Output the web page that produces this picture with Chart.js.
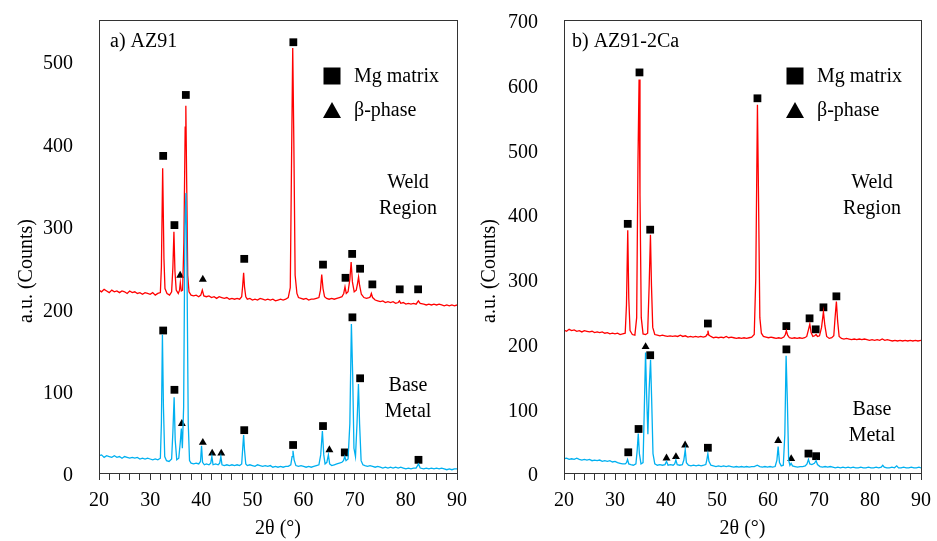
<!DOCTYPE html>
<html>
<head>
<meta charset="utf-8">
<script src="https://cdn.jsdelivr.net/npm/chart.js@4.4.1/dist/chart.umd.min.js"></script>
<style>
  html, body { margin: 0; padding: 0; background: #fff; }
  #wrap { position: relative; width: 937px; height: 541px; }
  canvas { position: absolute; top: 0; }
  #left { left: 0; }
  #right { left: 470px; }
</style>
</head>
<body>
<div id="wrap">
  <canvas id="left" width="470" height="541"></canvas>
  <canvas id="right" width="467" height="541"></canvas>
</div>
<script>
// 2θ (deg), counts

// a) AZ91, weld region
const az91Weld = [
  [20,222],[20.5,220],[21,223],[21.5,221],[22,219],[22.5,222],[23,220],[23.5,221],[24,219],[24.5,221],
  [25,220],[25.5,218],[26,221],[26.5,219],[27,220],[27.5,218],[28,219],[28.5,217],[29,219],[29.5,218],
  [30,217],[30.5,219],[31,216],[31.5,218],[32,219],[32.2,250],[32.45,370],[32.7,260],[32.9,224],[33.3,218],
  [33.8,216],[34.2,220],[34.45,250],[34.65,293],[34.85,245],[35.1,222],[35.5,218],[35.75,222],[35.9,231],[36.1,221],
  [36.35,222],[36.6,280],[36.85,420],[36.98,446],[37.15,350],[37.35,240],[37.6,220],[38,216],[38.5,215],[39,216],
  [39.5,214],[39.9,216],[40.2,222],[40.5,215],[41,214],[41.5,215],[42,213],[42.5,214],[43,212],[43.5,214],
  [44,213],[44.5,212],[45,213],[45.5,211],[46,212],[46.5,211],[47,212],[47.5,211],[47.9,214],[48.1,228],
  [48.28,243],[48.45,226],[48.7,214],[49,211],[49.5,212],[50,210],[50.5,211],[51,210],[51.5,212],[52,211],
  [52.5,210],[53,211],[53.5,210],[54,211],[54.5,209],[55,210],[55.5,211],[56,210],[56.5,211],[57,213],
  [57.4,225],[57.65,380],[57.88,516],[58.1,400],[58.35,240],[58.7,218],[59,213],[59.5,212],[60,211],[60.5,212],
  [61,210],[61.5,211],[62,211],[62.5,212],[63,213],[63.3,222],[63.55,241],[63.8,224],[64.1,214],[64.5,212],
  [65,211],[65.5,212],[66,211],[66.5,212],[67,213],[67.5,214],[67.85,218],[68.1,226],[68.35,218],[68.7,220],
  [69.05,235],[69.3,256],[69.55,232],[69.9,220],[70.3,222],[70.55,230],[70.75,238],[70.95,228],[71.3,217],[71.8,213],
  [72.3,212],[72.8,213],[73.05,214],[73.25,218],[73.5,213],[74,210],[74.5,209],[75,208],[75.5,209],[76,207],
  [76.5,208],[77,207],[77.5,208],[78,206],[78.5,207],[78.75,209],[79,206],[79.5,207],[80,205],[80.5,206],
  [81,205],[81.5,206],[82,205],[82.45,209],[82.8,206],[83.5,205],[84,204],[84.5,205],[85,204],[85.5,205],
  [86,204],[86.5,205],[87,204],[87.5,203],[88,204],[88.5,203],[89,204],[89.5,203],[90,204]
];

// a) AZ91, base metal
const az91Base = [
  [20,21],[20.5,22],[21,19],[21.5,21],[22,20],[22.5,19],[23,21],[23.5,19],[24,20],[24.5,18],
  [25,20],[25.5,19],[26,18],[26.5,19],[27,18],[27.5,19],[28,17],[28.5,18],[29,17],[29.5,18],
  [30,17],[30.5,16],[31,17],[31.5,16],[32,18],[32.2,60],[32.4,168],[32.6,80],[32.85,20],[33.2,15],
  [33.7,14],[34.2,17],[34.45,50],[34.69,92],[34.9,40],[35.2,16],[35.6,18],[35.9,38],[36.1,54],[36.3,30],
  [36.55,80],[36.8,300],[37.0,340],[37.2,250],[37.45,60],[37.7,15],[38,12],[38.5,11],[39,12],[39.5,11],
  [39.85,14],[40.05,33],[40.25,13],[40.6,10],[41,11],[41.5,10],[41.85,12],[42.07,20],[42.3,10],[42.8,11],
  [43.3,10],[43.6,12],[43.83,20],[44.05,10],[44.5,9],[45,10],[45.5,9],[46,10],[46.5,9],[47,10],
  [47.5,9],[47.9,11],[48.1,30],[48.28,46],[48.45,28],[48.7,11],[49,9],[49.5,10],[50,9],[50.5,8],
  [51,10],[51.5,9],[52,8],[52.5,9],[53,8],[53.5,9],[54,7],[54.5,8],[55,7],[55.5,8],
  [56,7],[56.5,8],[57,8],[57.5,10],[57.75,20],[57.93,27],[58.15,16],[58.5,9],[59,8],[59.5,9],
  [60,8],[60.5,7],[61,8],[61.5,7],[62,8],[62.5,9],[63,10],[63.35,22],[63.68,51],[63.95,22],
  [64.2,11],[64.55,13],[64.85,22],[65.1,11],[65.5,9],[66,10],[66.5,11],[67,12],[67.5,13],[67.8,15],
  [68.06,20],[68.3,15],[68.7,17],[69.05,60],[69.35,181],[69.6,120],[69.85,30],[70.15,20],[70.45,60],[70.73,108],
  [70.95,60],[71.25,15],[71.6,10],[72,9],[72.5,8],[73,9],[73.5,8],[74,7],[74.5,8],[75,7],
  [75.5,6],[76,7],[76.5,6],[77,7],[77.5,6],[78,7],[78.5,6],[79,7],[79.5,6],[80,5],
  [80.5,6],[81,5],[81.5,6],[82,6],[82.47,11],[82.8,6],[83.5,5],[84,6],[84.5,5],[85,6],
  [85.5,5],[86,6],[86.5,5],[87,6],[87.5,5],[88,4],[88.5,5],[89,4],[89.5,5],[90,5]
];

// b) AZ91-2Ca, weld region
const caWeld = [
  [20,221],[20.5,219],[21,222],[21.5,220],[22,221],[22.5,219],[23,220],[23.5,218],[24,220],[24.5,219],
  [25,218],[25.5,219],[26,217],[26.5,218],[27,217],[27.5,218],[28,216],[28.5,217],[29,215],[29.5,216],
  [30,215],[30.5,216],[31,214],[31.5,215],[32,216],[32.25,260],[32.5,375],[32.7,270],[32.95,220],[33.4,214],
  [33.9,213],[34.25,240],[34.5,480],[34.72,608],[34.9,430],[35.15,240],[35.5,215],[36,214],[36.4,216],[36.7,290],
  [36.95,368],[37.15,290],[37.4,225],[37.8,214],[38.3,213],[38.8,212],[39.3,213],[39.8,212],[40.3,211],[40.8,212],
  [41.3,211],[41.8,212],[42.3,211],[42.8,213],[43.3,211],[43.8,212],[44.3,210],[44.8,211],[45.3,210],[45.8,211],
  [46.3,210],[46.8,211],[47.3,210],[47.8,211],[48.05,214],[48.22,220],[48.4,213],[48.8,211],[49.3,209],[49.8,210],
  [50.3,209],[50.8,210],[51.3,209],[51.8,211],[52.3,209],[52.8,210],[53.3,209],[53.8,208],[54.3,209],[54.8,208],
  [55.3,209],[55.8,208],[56.3,209],[56.8,210],[57.3,214],[57.6,300],[57.93,569],[58.15,420],[58.4,240],[58.7,216],
  [59.1,211],[59.6,210],[60.1,209],[60.6,210],[61.1,209],[61.6,208],[62.1,209],[62.6,208],[63.1,210],[63.4,214],
  [63.6,220],[63.85,213],[64.2,209],[64.7,208],[65.2,209],[65.7,208],[66.2,209],[66.7,208],[67.2,209],[67.6,211],
  [67.95,222],[68.2,230],[68.45,217],[68.8,211],[69.15,212],[69.43,214],[69.7,211],[70.1,212],[70.5,225],[70.87,249],
  [71.15,228],[71.5,211],[72,208],[72.5,209],[72.9,212],[73.15,240],[73.41,265],[73.65,235],[73.95,211],[74.4,208],
  [74.9,207],[75.4,208],[75.9,207],[76.4,206],[76.9,207],[77.4,206],[77.9,207],[78.4,206],[78.9,207],[79.4,206],
  [79.9,205],[80.4,206],[80.9,205],[81.4,206],[81.9,205],[82.4,207],[82.9,205],[83.4,206],[83.9,205],[84.4,204],
  [84.9,205],[85.4,204],[85.9,205],[86.4,204],[86.9,205],[87.4,204],[87.9,205],[88.4,204],[88.9,205],[89.4,204],[90,205]
];

// b) AZ91-2Ca, base metal
const caBase = [
  [20,22],[20.5,23],[21,21],[21.5,22],[22,21],[22.5,23],[23,21],[23.5,20],[24,21],[24.5,20],
  [25,21],[25.5,19],[26,20],[26.5,19],[27,20],[27.5,18],[28,19],[28.5,18],[29,19],[29.5,17],
  [30,18],[30.5,16],[31,15],[31.5,14],[32,14],[32.25,16],[32.46,21],[32.7,14],[33.1,13],[33.6,12],
  [34.1,14],[34.35,35],[34.56,61],[34.78,30],[35.1,14],[35.5,16],[35.75,100],[35.99,186],[36.2,120],[36.45,60],
  [36.7,130],[36.97,175],[37.2,110],[37.45,30],[37.8,14],[38.3,12],[38.8,13],[39.3,12],[39.8,13],[40.1,18],
  [40.4,12],[40.9,13],[41.4,12],[41.7,14],[41.94,20],[42.2,13],[42.7,12],[43.2,13],[43.5,20],[43.77,36],
  [44.0,16],[44.4,12],[44.9,11],[45.4,12],[45.9,11],[46.4,12],[46.9,11],[47.4,12],[47.8,13],[48.0,20],
  [48.21,30],[48.42,18],[48.8,12],[49.3,11],[49.8,10],[50.3,11],[50.8,10],[51.3,11],[51.8,10],[52.3,11],
  [52.8,10],[53.3,9],[53.8,10],[54.3,9],[54.8,10],[55.3,9],[55.8,10],[56.3,9],[56.8,10],[57.3,10],
  [57.9,12],[58.4,10],[58.9,9],[59.4,10],[59.9,9],[60.4,10],[60.9,9],[61.4,10],[61.75,20],[61.99,41],
  [62.25,16],[62.6,11],[63.0,12],[63.3,60],[63.55,181],[63.8,110],[64.05,20],[64.3,12],[64.53,15],[64.8,11],
  [65.3,10],[65.8,9],[66.3,10],[66.8,10],[67.3,11],[67.65,14],[67.93,21],[68.2,14],[68.6,13],[69.1,15],
  [69.43,19],[69.7,13],[70.2,10],[70.7,9],[71.2,10],[71.7,9],[72.2,10],[72.7,9],[73.2,8],[73.7,9],
  [74.2,8],[74.7,9],[75.2,8],[75.7,9],[76.2,8],[76.7,9],[77.2,8],[77.7,8],[78.2,9],[78.7,8],
  [79.2,8],[79.7,9],[80.2,8],[80.7,8],[81.2,9],[81.7,8],[82.2,9],[82.5,12],[82.8,9],[83.3,8],
  [83.8,8],[84.3,9],[84.8,8],[85.24,11],[85.6,8],[86.1,8],[86.6,9],[87.1,8],[87.6,8],[88.1,9],
  [88.6,8],[89.1,8],[89.6,9],[90,8]
];

// peak labels: ■ Mg matrix, ▲ β-phase
const az91MgMarks = [
  [32.55,385],[34.75,301],[36.98,459],[48.4,260],[58.0,523],[63.8,253],[68.2,237],[69.5,266],[71.05,248],[73.45,229],[78.8,223],[82.4,223],
  [32.55,173],[34.75,101],[48.4,52],[57.95,34],[63.8,57],[68.06,25],[69.55,189],[71.06,115],[82.47,16]
];
const az91BetaMarks = [
  [35.87,240],[40.3,235],
  [36.2,60],[40.3,37],[42.13,24],[43.9,24],[65.05,28]
];
const caMgMarks = [
  [32.5,385],[34.8,619],[36.9,376],[48.21,231],[57.93,579],[63.6,227],[68.15,239],[69.35,222],[70.87,256],[73.41,273],
  [32.6,32],[34.62,68],[36.9,182],[48.21,39],[63.61,191],[67.93,30],[69.43,26]
];
const caBetaMarks = [
  [36.0,195],[40.1,23],[41.95,25],[43.75,43],[62.0,50],[64.55,22]
];

const xTicks = [20, 30, 40, 50, 60, 70, 80, 90];

const FONT = '"Liberation Serif", "Times New Roman", serif';
const RED = '#ff0000';
const BLUE = '#00b0f0';

// frame, legend, panel notes, y title
const panelDeco = {
  id: 'panelDeco',
  afterDraw(chart, args, o) {
    const ctx = chart.ctx;
    const a = chart.chartArea;
    ctx.save();
    ctx.strokeStyle = '#333';
    ctx.lineWidth = 1;
    ctx.strokeRect(Math.round(a.left) + 0.5, Math.round(a.top) + 0.5,
      Math.round(a.right - a.left), Math.round(a.bottom - a.top));

    ctx.fillStyle = '#000';
    ctx.font = '20px ' + FONT;
    ctx.textBaseline = 'middle';

    ctx.textAlign = 'left';
    ctx.fillText(o.panel, o.panelX, 42);

    // legend
    ctx.fillRect(o.legX - 8.5, 76 - 8.5, 17, 17);
    ctx.beginPath();
    ctx.moveTo(o.legX, 102);
    ctx.lineTo(o.legX + 9, 118);
    ctx.lineTo(o.legX - 9, 118);
    ctx.closePath();
    ctx.fill();
    ctx.fillText('Mg matrix', o.legX + 22, 77);
    ctx.fillText('β-phase', o.legX + 22, 111);

    ctx.textAlign = 'center';
    ctx.fillText('Weld', o.noteX, 183);
    ctx.fillText('Region', o.noteX, 209);
    ctx.fillText('Base', o.noteX, o.baseY);
    ctx.fillText('Metal', o.noteX, o.baseY + 26);

    // y title
    ctx.translate(o.yTitleX, 271);
    ctx.rotate(-Math.PI / 2);
    ctx.fillText('a.u. (Counts)', 0, 0);
    ctx.restore();
  }
};

// serif digits sit a bit high on 'middle', nudge the y labels down (wrap only once)
function nudgeLabels(s) {
  if (s._nudged) return;
  s._nudged = true;
  const orig = s._computeLabelItems;
  s._computeLabelItems = function (ca) {
    const items = orig.call(this, ca);
    items.forEach(it => { it.options.translation = [it.options.translation[0], it.options.translation[1] + 3]; });
    return items;
  };
}

function makePanel(id, base, weld, mgMarks, betaMarks, yMax, yWidth, padRight, deco) {
  const ctx = document.getElementById(id).getContext('2d');
  return new Chart(ctx, {
    type: 'scatter',
    data: {
      datasets: [
        { data: base, showLine: true, borderColor: BLUE, borderWidth: 1.3, pointRadius: 0, tension: 0 },
        { data: weld, showLine: true, borderColor: RED, borderWidth: 1.3, pointRadius: 0, tension: 0 },
        { data: mgMarks, pointStyle: 'rect', pointRadius: 5.5, backgroundColor: '#000', borderWidth: 0 },
        { data: betaMarks, pointStyle: 'triangle', pointRadius: 4.6, backgroundColor: '#000', borderWidth: 0 }
      ]
    },
    options: {
      responsive: false,
      animation: false,
      events: [],
      layout: { padding: { left: 0, right: padRight, top: 20, bottom: 0 } },
      plugins: {
        legend: { display: false },
        tooltip: { enabled: false },
        panelDeco: deco
      },
      scales: {
        x: {
          type: 'linear',
          min: 20, max: 90,
          border: { display: false },
          grid: { drawOnChartArea: false, drawTicks: true, tickLength: 7, color: '#333', lineWidth: 1 },
          ticks: {
            stepSize: 2, autoSkip: false, maxRotation: 0, padding: 9,
            color: '#000', font: { family: FONT, size: 20 },
            callback: v => xTicks.includes(v) ? String(v) : ''
          },
          title: { display: true, text: '2θ (°)', color: '#000', font: { family: FONT, size: 20 }, padding: { top: 0, bottom: 0 } },
          afterFit: s => { s.height = 68; s.paddingLeft = 0; s.paddingRight = 0; }
        },
        y: {
          min: 0, max: yMax,
          border: { display: false },
          grid: { display: false },
          ticks: {
            stepSize: 100, padding: 18,
            color: '#000', font: { family: FONT, size: 20 },
            callback: v => (v % 100 === 0 ? String(v) : '')
          },
          afterFit: s => { s.width = yWidth; s.paddingTop = 0; s.paddingBottom = 0; },
          afterUpdate: nudgeLabels
        }
      }
    },
    plugins: [panelDeco]
  });
}

makePanel('left', az91Base, az91Weld, az91MgMarks, az91BetaMarks, 550, 99, 13,
  { panel: 'a) AZ91', panelX: 110, legX: 332, noteX: 408, baseY: 386, yTitleX: 27 });
makePanel('right', caBase, caWeld, caMgMarks, caBetaMarks, 700, 94, 16,
  { panel: 'b) AZ91-2Ca', panelX: 102, legX: 325, noteX: 402, baseY: 410, yTitleX: 20 });
</script>
</body>
</html>
